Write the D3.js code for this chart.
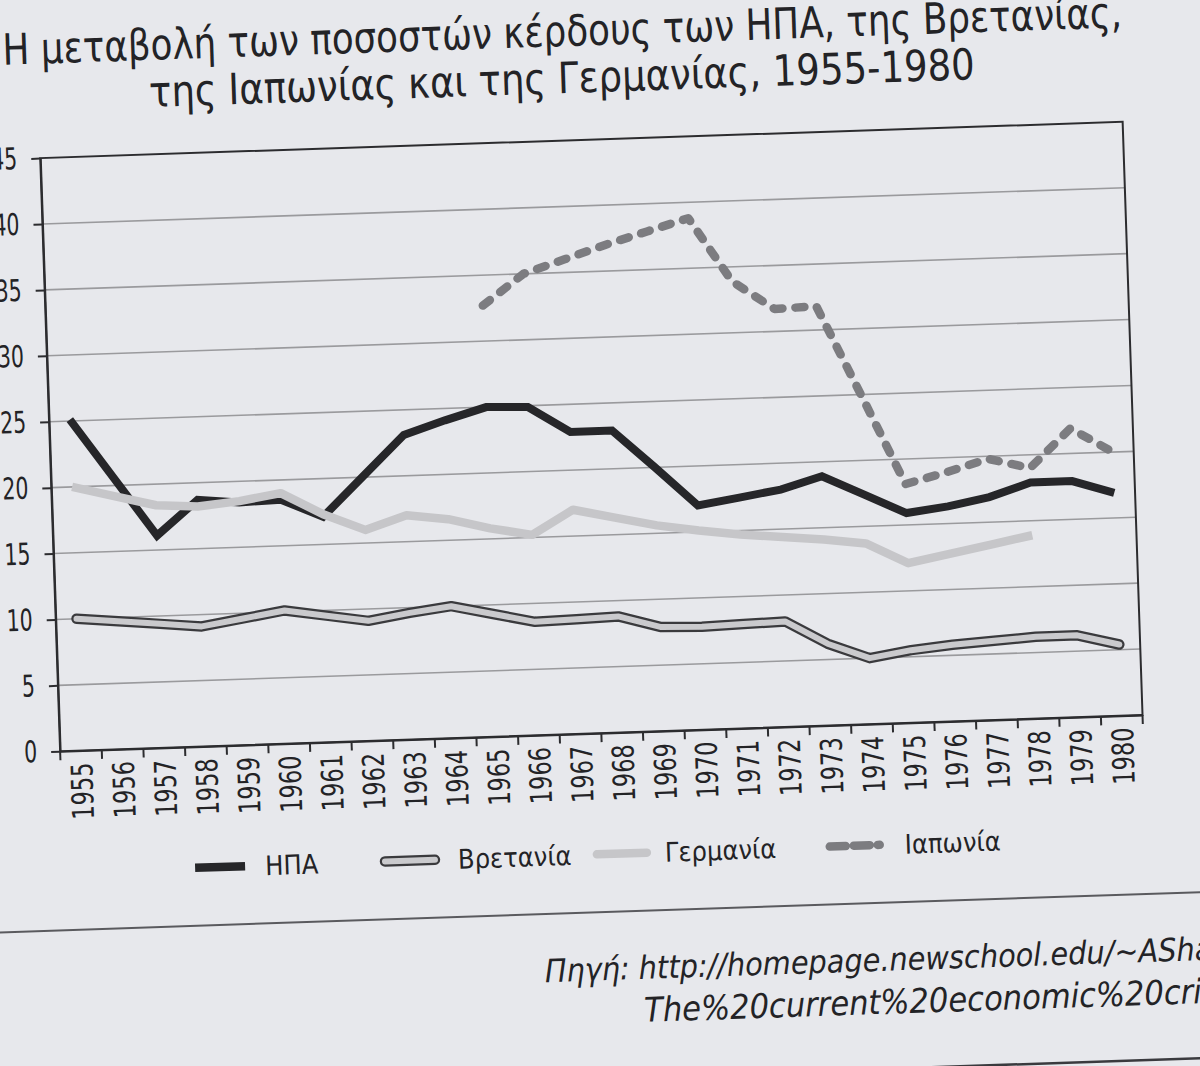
<!DOCTYPE html>
<head>
	<meta charset="utf-8">
	<title>Ποσοστά κέρδους 1955-1980</title>
	<script src="https://d3js.org/d3.v7.min.js"></script>
	<style>
		body{
			margin: 0;
			background-color: #e7e8ec;
		}
		svg{ display: block; }
		text{
			font-family: 'Liberation Sans Narrow', 'DejaVu Sans Condensed', sans-serif;
			fill: #232326;
		}
	</style>
</head>
<body>
	<script>
		// data (profit rate, %)
		var years = [1955, 1956, 1957, 1958, 1959, 1960, 1961, 1962, 1963, 1964, 1965, 1966, 1967,
			1968, 1969, 1970, 1971, 1972, 1973, 1974, 1975, 1976, 1977, 1978, 1979, 1980];

		var usa     = [25.1, 20.6, 16.1, 18.7, 18.4, 18.5, 17.1, 20.1, 23.1, 24.1, 25.0, 24.9, 22.9,
			22.9, 20.0, 17.0, 17.5, 18.0, 18.9, 17.4, 15.9, 16.3, 16.9, 17.9, 17.9, 16.9];
		var britain = [10.0, 9.7, 9.4, 9.1, 9.6, 10.1, 9.6, 9.1, 9.6, 10.0, 9.3, 8.6, 8.7,
			8.8, 7.9, 7.8, 7.9, 8.0, 6.2, 5.0, 5.5, 5.8, 6.0, 6.2, 6.2, 5.4];
		var germany = [20.0, 19.2, 18.4, 18.2, 18.5, 19.0, 17.3, 16.0, 17.0, 16.6, 15.8, 15.2, 17.0,
			16.3, 15.6, 15.1, 14.7, 14.4, 14.1, 13.7, 12.1, 12.7, 13.3, 13.9, null, null];
		var japan   = [null, null, null, null, null, null, null, null, null, null, 32.7, 35.0, 36.0,
			37.0, 37.9, 38.8, 33.9, 31.7, 31.8, 25.0, 18.1, 18.9, 19.8, 19.0, 21.9, 20.0];

		var yTicks = [0, 5, 10, 15, 20, 25, 30, 35, 40, 45];
		var legendNames = ["ΗΠΑ", "Βρετανία", "Γερμανία", "Ιαπωνία"];

		var width = 1200;
		var height = 1066;
		// plot box (not "top": that name is taken by window.top)
		var pLeft = 50, pRight = 1133, pTop = 139.5, pBottom = 733;

		var svg = d3.select("body").append("svg")
			.attr("width", width)
			.attr("height", height);

		// the scanned page is slightly tilted, so the whole drawing is too
		var page = svg.append("g").attr("transform", "rotate(-1.92,600,440)");

		var x = d3.scaleBand().domain(years).range([pLeft, pRight]);
		var y = d3.scaleLinear().domain([0, 45]).range([pBottom, pTop]);
		var bw = x.bandwidth();

		// title, squeezed to the width of the printed one
		var title = page.append("g").attr("font-size", 43);
		title.append("text").attr("x", 576).attr("y", 45).attr("text-anchor", "middle")
			.attr("textLength", 1120).attr("lengthAdjust", "spacingAndGlyphs")
			.text("Η μεταβολή των ποσοστών κέρδους των ΗΠΑ, της Βρετανίας,");
		title.append("text").attr("x", 574).attr("y", 92).attr("text-anchor", "middle")
			.attr("textLength", 826).attr("lengthAdjust", "spacingAndGlyphs")
			.text("της Ιαπωνίας και της Γερμανίας, 1955-1980");

		// horizontal grid lines
		page.append("g").selectAll("line")
			.data(yTicks.slice(1, -1))
			.enter().append("line")
			.attr("x1", pLeft).attr("x2", pRight)
			.attr("y1", function(d){ return y(d); })
			.attr("y2", function(d){ return y(d); })
			.attr("stroke", "#9a9a9d")
			.attr("stroke-width", 1.6);

		// frame
		page.append("rect")
			.attr("x", pLeft).attr("y", pTop)
			.attr("width", pRight - pLeft).attr("height", pBottom - pTop)
			.attr("fill", "none")
			.attr("stroke", "#2c2c2f")
			.attr("stroke-width", 2);

		// y axis, digits narrowed like the printed condensed face
		var yAxis = page.append("g")
			.attr("transform", "translate(" + pLeft + ",0)")
			.call(d3.axisLeft(y).tickValues(yTicks).tickSize(9).tickSizeOuter(0).tickPadding(14));
		yAxis.select(".domain").attr("stroke", "#2c2c2f").attr("stroke-width", 2);
		yAxis.selectAll(".tick line").attr("stroke", "#2c2c2f").attr("stroke-width", 2);
		yAxis.selectAll("text")
			.attr("font-size", 30).attr("font-family", null).attr("fill", "#2a2a2d")
			.attr("textLength", function(d){ return String(d).length * 13; })
			.attr("lengthAdjust", "spacingAndGlyphs");

		// x axis: labels in the middle of each band, ticks on the band edges
		var xAxis = page.append("g")
			.attr("transform", "translate(0," + pBottom + ")")
			.call(d3.axisBottom(x).tickSize(0).tickSizeOuter(0));
		xAxis.select(".domain").attr("stroke", "#2c2c2f").attr("stroke-width", 2);
		xAxis.selectAll("text")
			.attr("font-size", 30).attr("font-family", null).attr("fill", "#2a2a2d")
			.attr("text-anchor", "end")
			.attr("transform", "rotate(-90)")
			.attr("textLength", 57).attr("lengthAdjust", "spacingAndGlyphs")
			.attr("x", -12).attr("y", 0).attr("dy", "0.36em");

		var edges = years.map(function(d){ return x(d); }).concat([pRight]);
		xAxis.selectAll(".edge")
			.data(edges)
			.enter().append("line")
			.attr("class", "edge")
			.attr("x1", function(d){ return d; }).attr("x2", function(d){ return d; })
			.attr("y1", 0).attr("y2", 9)
			.attr("stroke", "#2c2c2f")
			.attr("stroke-width", 2);

		// lines
		var line = d3.line()
			.defined(function(d){ return d[1] != null; })
			.x(function(d){ return x(d[0]) + bw / 2; })
			.y(function(d){ return y(d[1]); });

		var lines = page.append("g").attr("fill", "none");

		// Britain: dark outline with light fill
		lines.append("path").datum(d3.zip(years, britain))
			.attr("d", line).attr("stroke", "#3a3a3d").attr("stroke-width", 10.5)
			.attr("stroke-linejoin", "round").attr("stroke-linecap", "round");
		lines.append("path").datum(d3.zip(years, britain))
			.attr("d", line).attr("stroke", "#cacacd").attr("stroke-width", 6)
			.attr("stroke-linejoin", "round").attr("stroke-linecap", "round");

		lines.append("path").datum(d3.zip(years, usa))
			.attr("d", line).attr("stroke", "#262629").attr("stroke-width", 8)
			.attr("stroke-linejoin", "miter");

		lines.append("path").datum(d3.zip(years, germany))
			.attr("d", line).attr("stroke", "#c6c6c9").attr("stroke-width", 8.5)
			.attr("stroke-linejoin", "round");

		lines.append("path").datum(d3.zip(years, japan))
			.attr("d", line).attr("stroke", "#7c7c80").attr("stroke-width", 8.5)
			.attr("stroke-dasharray", "9,13")
			.attr("stroke-linecap", "round").attr("stroke-linejoin", "round");

		// legend
		var swatchX = [181, 371, 583, 816];
		var labelX = [251, 444, 651, 891];
		var legend = page.append("g").attr("transform", "translate(0,854)");
		var sw = legend.selectAll(".sw").data(legendNames).enter().append("g").attr("class", "sw");

		sw.filter(function(d, i){ return i == 1; }).append("line")
			.attr("stroke", "#3a3a3d").attr("stroke-width", 10.5).attr("stroke-linecap", "round");
		sw.append("line")
			.attr("stroke", function(d, i){ return ["#262629", "#cacacd", "#c6c6c9", "#7c7c80"][i]; })
			.attr("stroke-width", function(d, i){ return i == 1 ? 6 : 8.5; })
			.attr("stroke-dasharray", function(d, i){ return i == 3 ? "16,8" : null; })
			.attr("stroke-linecap", function(d, i){ return i == 0 ? "butt" : "round"; });
		sw.selectAll("line")
			.attr("x1", function(){ return swatchX[legendNames.indexOf(d3.select(this.parentNode).datum())]; })
			.attr("x2", function(){ return swatchX[legendNames.indexOf(d3.select(this.parentNode).datum())] + 50; })
			.attr("y1", 0).attr("y2", 0);

		legend.selectAll(".lab").data(legendNames).enter().append("text")
			.attr("class", "lab")
			.attr("x", function(d, i){ return labelX[i]; })
			.attr("y", 0).attr("dy", "0.36em")
			.attr("font-size", 27)
			.text(function(d){ return d; });

		// rule and source
		page.append("line").attr("x1", -60).attr("x2", 1300).attr("y1", 912).attr("y2", 912)
			.attr("stroke", "#5a5a5e").attr("stroke-width", 2);
		page.append("line").attr("x1", 560).attr("x2", 1300).attr("y1", 1078).attr("y2", 1078)
			.attr("stroke", "#3a3a3e").attr("stroke-width", 2.5);

		var src = page.append("g").attr("font-size", 32).attr("font-style", "italic");
		src.append("text").attr("x", 527).attr("y", 980)
			.text("Πηγή: http://homepage.newschool.edu/~AShaikh/");
		src.append("text").attr("x", 625).attr("y", 1023).attr("font-size", 34)
			.text("The%20current%20economic%20crisis");
	</script>
</body>
